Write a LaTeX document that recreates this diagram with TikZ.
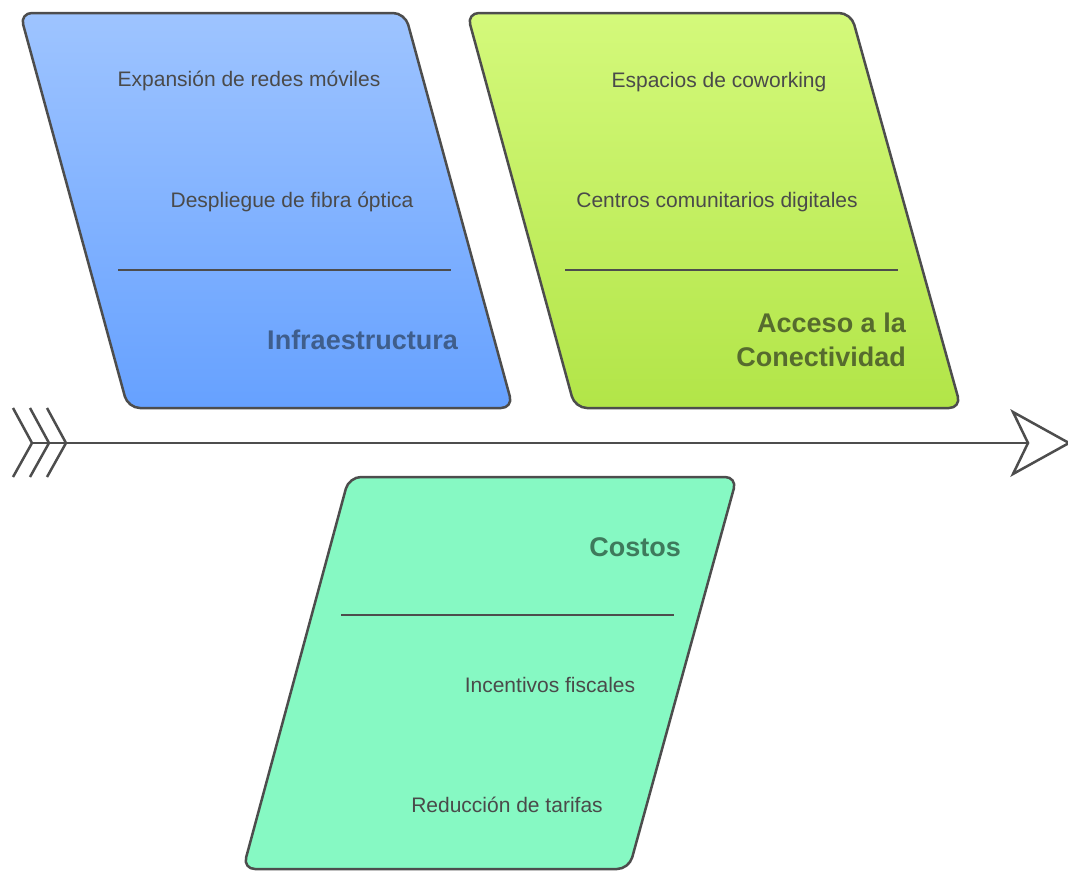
\documentclass[tikz,border=0pt]{standalone}
\usepackage{fontspec}
\setmainfont{Liberation Sans}
\definecolor{edgegray}{HTML}{4D4D4D}
\definecolor{textgray}{HTML}{4A4A4A}
\definecolor{infratop}{HTML}{9EC4FF}
\definecolor{infrabot}{HTML}{66A1FF}
\definecolor{infratext}{HTML}{3F5E8C}
\definecolor{accetop}{HTML}{D4F97B}
\definecolor{accebot}{HTML}{B2E548}
\definecolor{accetext}{HTML}{566B2E}
\definecolor{costfill}{HTML}{86F9C3}
\definecolor{costtext}{HTML}{3E7A5C}
\tikzset{
  spine/.style={draw=edgegray, line width=2.5pt},
  bone/.style={draw=edgegray, line width=2.5pt, rounded corners=12pt},
  divider/.style={draw=edgegray, line width=2.5pt},
  cause/.style={text=textgray, font=\fontsize{21}{24}\selectfont, inner sep=0pt},
  category/.style={font=\bfseries\fontsize{27}{34}\selectfont, align=right, inner sep=0pt, anchor=east}
}
\begin{document}
\begin{tikzpicture}[x=1pt,y=-1pt]
	\useasboundingbox (0,0) rectangle (1068,871);
	% spine with tail and head
	\coordinate (tail) at (32,443);
	\coordinate (head) at (1028,443);
	\draw[spine] (tail) -- (head);
	\foreach \dx in {0,17,34}
		\draw[spine] (13+\dx,408) -- (32+\dx,443) -- (13+\dx,477);
	\draw[spine, fill=white, line join=miter] (head) -- (1013,412) -- (1069,443) -- (1013,474) -- cycle;
	% Infraestructura
	\draw[bone, top color=infratop, bottom color=infrabot] (20,13) -- (405,13) -- (513,408) -- (128,408) -- cycle;
	\draw[divider] (118,270) -- (451,270);
	\node[cause] (redes) at (249,81) {Expansión de redes móviles};
	\node[cause] (fibra) at (292,202) {Despliegue de fibra óptica};
	\node[category, text=infratext] (infra) at (458,340) {Infraestructura};
	% Acceso a la Conectividad
	\draw[bone, top color=accetop, bottom color=accebot] (467,13) -- (851,13) -- (961,408) -- (575,408) -- cycle;
	\draw[divider] (565,270) -- (898,270);
	\node[cause] (cowork) at (719,82) {Espacios de coworking};
	\node[cause] (centros) at (717,202) {Centros comunitarios digitales};
	\node[category, text=accetext] (acceso) at (906,340) {Acceso a la\\Conectividad};
	% Costos
	\draw[bone, fill=costfill] (349,477) -- (737,477) -- (629,869) -- (243,869) -- cycle;
	\draw[divider] (341,615) -- (674,615);
	\node[category, text=costtext] (costos) at (681,547) {Costos};
	\node[cause] (fiscal) at (550,685) {Incentivos fiscales};
	\node[cause] (tarifa) at (507,805) {Reducción de tarifas};
\end{tikzpicture}
\end{document}
